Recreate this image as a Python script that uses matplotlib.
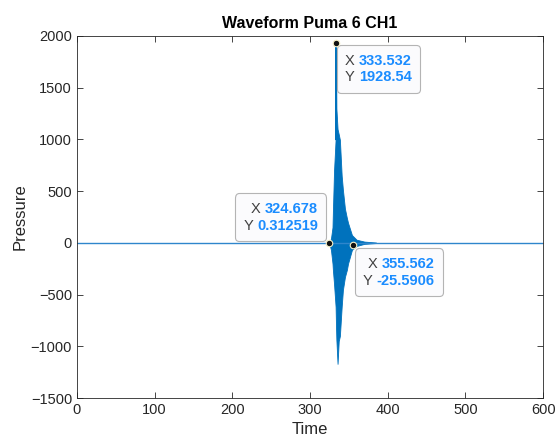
import matplotlib
matplotlib.use("Agg")
import matplotlib.pyplot as plt
from matplotlib.offsetbox import TextArea, HPacker, VPacker, AnnotationBbox

plt.rcParams['font.family'] = ['Liberation Sans', 'DejaVu Sans']

# Baseline of the recording (flat, near zero)
base_t = [0, 324.7, 385, 600]
base_v = [0, 0, 0, 0]

# Envelope of the burst
env_t = [324.7, 327, 329, 329.5, 331, 333.0, 333.5, 334.0, 335.5, 337, 338.5, 340.8, 342.4, 345, 347.5, 349, 354, 360, 370, 385]
env_up = [0, 40, 150, 300, 700, 1000, 1928.54, 1300, 1100, 1050, 996, 650, 512, 330, 240, 193, 75, 30, 12, 3]
env_lo = [0, -68, -200, -261, -400, -619, -800, -938, -1170, -950, -900, -619, -454, -330, -261, -200, -68, -30, -10, -2]

# Data tips
tip_x = [333.532, 324.678, 355.562]
tip_y = [1928.54, 0.312519, -25.5906]
tip_xs = ["333.532", "324.678", "355.562"]
tip_ys = ["1928.54", "0.312519", "-25.5906"]

xticks = [0, 100, 200, 300, 400, 500, 600]
yticks = [-1500, -1000, -500, 0, 500, 1000, 1500, 2000]

blue = '#0072BD'
axc = '#262626'

fig = plt.figure(figsize=(5.57, 4.41), dpi=100)
ax = fig.add_axes([0.138, 0.0975, 0.837, 0.821])

ax.plot(base_t, base_v, color='#2f86cc', lw=1.0, solid_capstyle='butt')
ax.fill_between(env_t, env_lo, env_up, color=blue, lw=0.6, edgecolor=blue)
ax.plot([333.2, 333.532, 333.9], [1000, 1928.54, 1000], color=blue, lw=1.0)

ax.set_xlim(0, 600)
ax.set_ylim(-1500, 2000)
ax.set_xticks(xticks)
ax.set_yticks(yticks)
ax.tick_params(direction='in', top=True, right=True, length=4, width=0.6,
               colors=axc, labelsize=10.5, labelcolor=axc)
for s in ax.spines.values():
    s.set_color(axc)
    s.set_linewidth(0.6)
ax.set_title('Waveform Puma 6 CH1', fontsize=11.5, fontweight='bold', color='black', pad=6)
ax.set_xlabel('Time', fontsize=12, color=axc, labelpad=4)
ax.set_ylabel('Pressure', fontsize=12, color=axc, labelpad=2)

# datatip markers
ax.scatter(tip_x, tip_y, s=22, color='#111111', edgecolors='#f5f0c8', linewidths=0.8, zorder=7)

offsets = [(6.5, -7.4), (-8.0, 7.4), (7.0, -8.1)]
aligns = [(0, 1), (1, 0), (0, 1)]
tipblue = '#1a8cff'
for i in range(3):
    fs = 10.5
    row1 = HPacker(children=[TextArea("X", textprops=dict(color='#404040', fontsize=fs)),
                             TextArea(tip_xs[i], textprops=dict(color=tipblue, fontsize=fs, fontweight='bold'))],
                   align='baseline', pad=0, sep=3)
    row2 = HPacker(children=[TextArea("Y", textprops=dict(color='#404040', fontsize=fs)),
                             TextArea(tip_ys[i], textprops=dict(color=tipblue, fontsize=fs, fontweight='bold'))],
                   align='baseline', pad=0, sep=3)
    box = VPacker(children=[row1, row2], align='right', pad=0, sep=2)
    ab = AnnotationBbox(box, (tip_x[i], tip_y[i]), xybox=offsets[i], xycoords='data',
                        boxcoords='offset points', box_alignment=aligns[i], frameon=True,
                        bboxprops=dict(boxstyle='round,pad=0.6,rounding_size=0.3',
                                       fc='#fbfbfd', ec='#b4b4b4', lw=0.8))
    ab.set_zorder(6)
    ax.add_artist(ab)

fig.savefig('out.png', dpi=100)
